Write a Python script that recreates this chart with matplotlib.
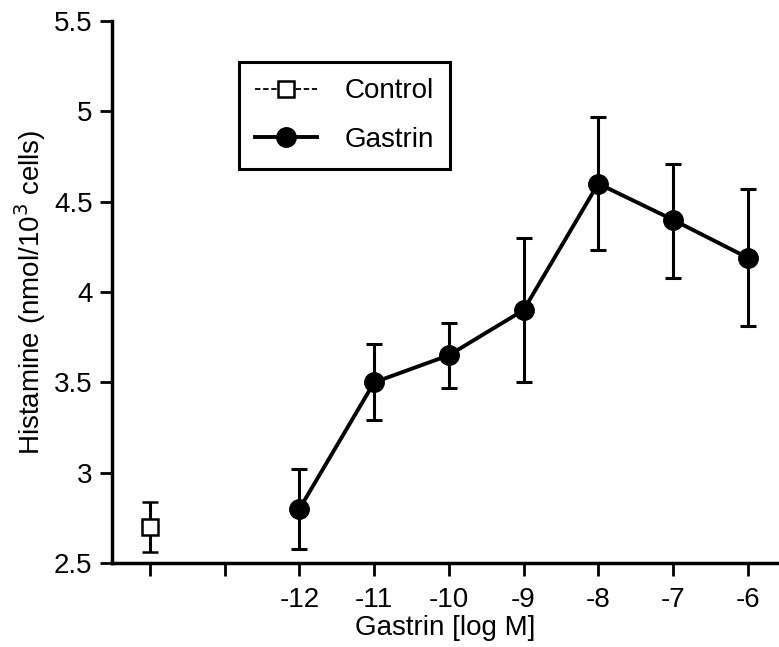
import matplotlib
matplotlib.use("Agg")
import matplotlib.pyplot as plt
from matplotlib.lines import Line2D

plt.rcParams['font.family'] = ['Liberation Sans', 'DejaVu Sans']

# Data
control_x = [-14]
control_y = [2.70]
control_err = [0.14]

gastrin_x = [-12, -11, -10, -9, -8, -7, -6]
gastrin_y = [2.80, 3.50, 3.65, 3.90, 4.60, 4.40, 4.19]
gastrin_lo = [2.58, 3.29, 3.47, 3.50, 4.23, 4.08, 3.81]
gastrin_hi = [3.02, 3.71, 3.83, 4.30, 4.97, 4.71, 4.57]

xticks = [-14, -13, -12, -11, -10, -9, -8, -7, -6]
xtick_labels = ['', '', '-12', '-11', '-10', '-9', '-8', '-7', '-6']
yticks = [2.5, 3, 3.5, 4, 4.5, 5, 5.5]
ytick_labels = ['2.5', '3', '3.5', '4', '4.5', '5', '5.5']

FS = 20

fig = plt.figure(figsize=(7.79, 6.47), dpi=100)
ax = fig.add_axes([0.1438, 0.1298, 0.8562, 0.8377])

yerr_g = [[y - lo for y, lo in zip(gastrin_y, gastrin_lo)],
          [hi - y for y, hi in zip(gastrin_y, gastrin_hi)]]

ax.errorbar(control_x, control_y, yerr=control_err, fmt='s', color='black',
            markerfacecolor='white', markeredgecolor='black', markersize=11,
            markeredgewidth=1.8, ecolor='black', elinewidth=2.2, capsize=6,
            capthick=2.2, clip_on=False, zorder=3)
ax.errorbar(gastrin_x, gastrin_y, yerr=yerr_g, fmt='o-', color='black',
            markersize=14, ecolor='black', elinewidth=2.2, capsize=6,
            capthick=2.2, linewidth=2.8, clip_on=False, zorder=3)

ax.set_xlim(-14.51, -5.58)
ax.set_ylim(2.5, 5.5)
ax.set_xticks(xticks)
ax.set_xticklabels(xtick_labels)
ax.set_yticks(yticks)
ax.set_yticklabels(ytick_labels)

ax.spines['top'].set_visible(False)
ax.spines['right'].set_visible(False)
for s in ['left', 'bottom']:
    ax.spines[s].set_linewidth(2.5)
ax.tick_params(axis='both', direction='out', length=9, width=2,
               labelsize=FS, pad=5)
ax.tick_params(axis='x', pad=8)

ax.set_xlabel('Gastrin [log M]', fontsize=FS, labelpad=2)
ax.set_ylabel('Histamine (nmol/10$^3$ cells)', fontsize=FS, labelpad=4)

h_control = Line2D([], [], color='black', linestyle=(0, (3, 1.5)), linewidth=1.3,
                   marker='s', markersize=11, markerfacecolor='white',
                   markeredgecolor='black', markeredgewidth=1.8)
h_gastrin = Line2D([], [], color='black', linestyle='-', linewidth=2.8,
                   marker='o', markersize=14)
leg = ax.legend([h_control, h_gastrin], ['Control', 'Gastrin'], loc='upper left',
                bbox_to_anchor=(0.19, 0.925), fontsize=FS,
                frameon=True, fancybox=False, edgecolor='black', framealpha=1,
                handlelength=2.2, borderpad=0.6, labelspacing=0.8,
                handletextpad=1.0, borderaxespad=0)
leg.get_frame().set_linewidth(2.2)

fig.savefig('out.png', dpi=100)
